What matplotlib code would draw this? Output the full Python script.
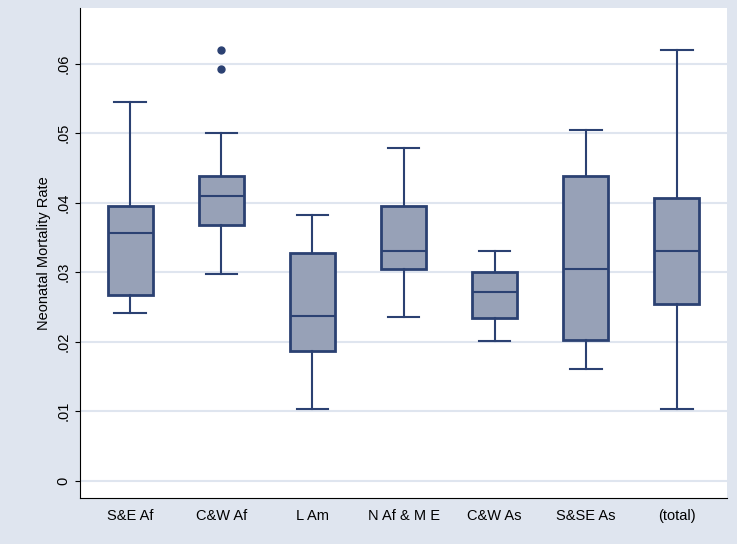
import numpy as np
import matplotlib.pyplot as plt

plt.rcParams['font.family'] = ['Liberation Sans', 'DejaVu Sans']

labels = ['S&E Af', 'C&W Af', 'L Am', 'N Af & M E', 'C&W As', 'S&SE As', '(total)']
whislo = [0.0241, 0.0298, 0.0103, 0.0235, 0.0201, 0.0161, 0.0103]
q1 = [0.0267, 0.0368, 0.0186, 0.0304, 0.0234, 0.0202, 0.0255]
med = [0.0357, 0.0409, 0.0237, 0.0330, 0.0271, 0.0304, 0.0330]
q3 = [0.0395, 0.0439, 0.0328, 0.0395, 0.0301, 0.0439, 0.0407]
whishi = [0.0545, 0.0500, 0.0382, 0.0479, 0.0331, 0.0504, 0.0620]
fliers = [[], [0.0592, 0.0620], [], [], [], [], []]

edge = '#2b4172'
stats = [dict(label=l, whislo=a, q1=b, med=c, q3=d, whishi=e, fliers=f)
         for l, a, b, c, d, e, f in zip(labels, whislo, q1, med, q3, whishi, fliers)]

fig = plt.figure(figsize=(7.37, 5.44), dpi=100, facecolor='#dfe5ef')
ax = fig.add_axes([0.109, 0.085, 0.877, 0.9])
ax.bxp(stats, widths=0.49, patch_artist=True, showfliers=True,
       boxprops=dict(facecolor='#97a1b7', edgecolor=edge, linewidth=2),
       medianprops=dict(color=edge, linewidth=1.5),
       whiskerprops=dict(color=edge, linewidth=1.5),
       capprops=dict(color=edge, linewidth=1.5),
       capwidths=0.35,
       flierprops=dict(marker='o', markersize=5, markerfacecolor=edge, markeredgecolor=edge))
ax.set_ylim(-0.00245, 0.068)
ax.set_xlim(0.45, 7.55)
ax.set_yticks([0, 0.01, 0.02, 0.03, 0.04, 0.05, 0.06])
ax.set_yticklabels(['0', '.01', '.02', '.03', '.04', '.05', '.06'], rotation=90, va='center')
ax.yaxis.grid(True, color='#dfe5ef', linewidth=1.5)
ax.set_axisbelow(True)
ax.set_ylabel('Neonatal Mortality Rate', fontsize=10.5)
ax.tick_params(axis='x', length=0, labelsize=10.5, pad=8)
ax.tick_params(axis='y', labelsize=10.5)
for s in ['top', 'right']:
    ax.spines[s].set_visible(False)
fig.savefig('out.png', facecolor=fig.get_facecolor())
